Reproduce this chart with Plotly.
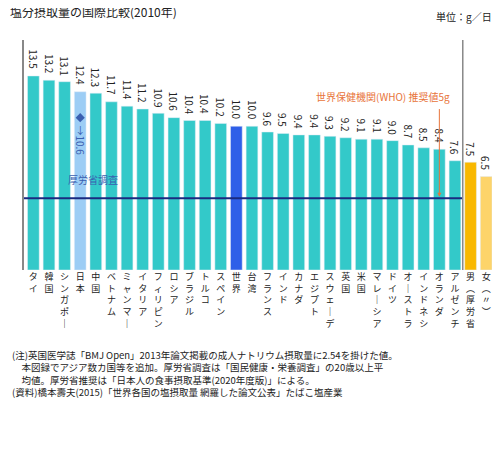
import plotly.graph_objects as go

countries = ["タイ","韓国","シンガポール","日本","中国","ベトナム","ミャンマー","イタリア","フィリピン","ロシア","ブラジル","トルコ","スペイン","世界","台湾","フランス","インド","カナダ","エジプト","スウェーデン","英国","米国","マレーシア","ドイツ","オーストラリア","インドネシア","オランダ","アルゼンチン","男（厚労省推奨）","女（〃）"]
values = [13.5,13.2,13.1,12.4,12.3,11.7,11.4,11.2,10.9,10.6,10.4,10.4,10.2,10.0,10.0,9.6,9.5,9.4,9.4,9.3,9.2,9.1,9.1,9.0,8.7,8.5,8.4,7.6,7.5,6.5]
japan_survey = 10.6
who = 5

def color(c):
    if c == "日本": return "#9ccdf5"
    if c == "世界": return "#2f5fe8"
    if c.startswith("男"): return "#f9b800"
    if c.startswith("女"): return "#fdd46a"
    return "#33c9c9"

def vert(s, maxn=5):
    s = s.replace("ー", "｜").replace("（", "︵").replace("）", "︶")
    return "<br>".join(list(s)[:maxn])

x = list(range(len(countries)))
fig = go.Figure()
fig.add_bar(x=x, y=values, marker_color=[color(c) for c in countries], width=0.75)
for xi, v in zip(x, values):
    fig.add_annotation(x=xi, y=v + 0.3, text=f"{v:.1f}", textangle=90, yanchor="bottom",
                       showarrow=False, font=dict(size=10, color="#222"))
fig.add_scatter(x=[3], y=[japan_survey], mode="markers",
                marker=dict(symbol="diamond", size=7, color="#3a5fb0"), showlegend=False)
fig.add_annotation(x=3, y=9.0, text="→10.6", textangle=90, showarrow=False,
                   font=dict(size=10, color="#3a5fb0"))
fig.add_annotation(x=3.8, y=6.3, text="厚労省調査", showarrow=False,
                   font=dict(size=10, color="#3a5fb0"))
fig.add_shape(type="line", x0=-0.6, x1=27.5, y0=who, y1=who, line=dict(color="#1a2a80", width=2))
fig.add_shape(type="line", x0=27.5, x1=27.5, y0=0, y1=16, line=dict(color="#888", width=1.5))
fig.add_annotation(x=26, y=5.1, ax=26, ay=11.3, axref="x", ayref="y", showarrow=True,
                   arrowhead=2, arrowsize=0.8, arrowwidth=1, arrowcolor="#e8743a", text="")
fig.add_annotation(x=26.8, y=12.1, xanchor="right", text="世界保健機関(WHO) 推奨値5g",
                   showarrow=False, font=dict(size=10, color="#e8743a"))
fig.add_annotation(xref="paper", yref="paper", x=-0.035, y=1.08, xanchor="left", yanchor="bottom",
                   text="塩分摂取量の国際比較(2010年)", showarrow=False, font=dict(size=12, color="#222"))
fig.add_annotation(xref="paper", yref="paper", x=1.0, y=1.06, xanchor="right", yanchor="bottom",
                   text="単位：g／日", showarrow=False, font=dict(size=10, color="#222"))
note = ("(注)英国医学誌「BMJ Open」2013年論文掲載の成人ナトリウム摂取量に2.54を掛けた値。<br>"
        "　本図録でアジア数カ国等を追加。厚労省調査は「国民健康・栄養調査」の20歳以上平<br>"
        "　均値。厚労省推奨は「日本人の食事摂取基準(2020年度版)」による。<br>"
        "(資料)橋本壽夫(2015)「世界各国の塩摂取量 網羅した論文公表」たばこ塩産業")
fig.add_annotation(xref="paper", yref="paper", x=-0.03, y=-0.33, xanchor="left", yanchor="top",
                   align="left", text=note, showarrow=False, font=dict(size=9.5, color="#222"))
fig.update_layout(width=500, height=453, margin=dict(l=16, r=14, t=32, b=191),
                  plot_bgcolor="white", paper_bgcolor="white", showlegend=False, bargap=0.2,
                  font=dict(family="Noto Sans CJK JP"))
fig.update_xaxes(tickvals=x, ticktext=[vert(c) for c in countries], tickangle=0,
                 tickfont=dict(size=9, color="#222"), range=[-0.6, 29.5], showline=False,
                 ticks="", showgrid=False)
fig.update_yaxes(range=[0, 16], showticklabels=False, showgrid=False, zeroline=False,
                 showline=True, linecolor="#888", linewidth=1.5)
fig.write_html("out.html")
